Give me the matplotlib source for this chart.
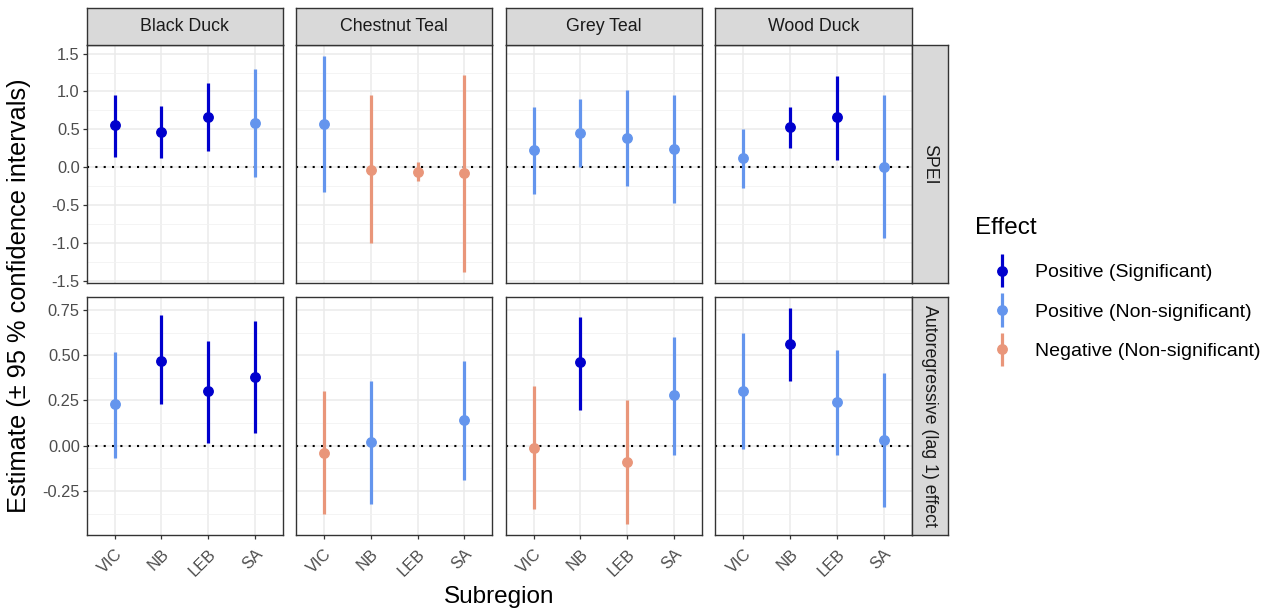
import numpy as np
import matplotlib
matplotlib.use("Agg")
import matplotlib.pyplot as plt
from matplotlib.legend_handler import HandlerErrorbar

plt.rcParams['font.family'] = ['Liberation Sans', 'DejaVu Sans']
plt.rcParams['axes.unicode_minus'] = False

species = ['Black Duck', 'Chestnut Teal', 'Grey Teal', 'Wood Duck']
subregions = ['VIC', 'NB', 'LEB', 'SA']
effects = ['SPEI', 'Autoregressive (lag 1) effect']

# estimates and 95% CI, rows = species, cols = subregions
spei_est = [[0.56, 0.47, 0.66, 0.59],
            [0.57, -0.03, -0.06, -0.08],
            [0.23, 0.45, 0.39, 0.24],
            [0.12, 0.53, 0.66, 0.01]]
spei_lo = [[0.14, 0.12, 0.22, -0.12],
           [-0.33, -1.00, -0.18, -1.38],
           [-0.35, 0.01, -0.24, -0.47],
           [-0.27, 0.26, 0.10, -0.93]]
spei_hi = [[0.96, 0.81, 1.11, 1.29],
           [1.47, 0.95, 0.07, 1.22],
           [0.80, 0.90, 1.02, 0.96],
           [0.51, 0.80, 1.21, 0.95]]
spei_cat = [['sig', 'sig', 'sig', 'pos'],
            ['pos', 'neg', 'neg', 'neg'],
            ['pos', 'pos', 'pos', 'pos'],
            ['pos', 'sig', 'sig', 'pos']]

ar_est = [[0.23, 0.47, 0.30, 0.38],
          [-0.04, 0.02, np.nan, 0.14],
          [-0.01, 0.46, -0.09, 0.28],
          [0.30, 0.56, 0.24, 0.03]]
ar_lo = [[-0.07, 0.23, 0.015, 0.07],
         [-0.375, -0.32, np.nan, -0.19],
         [-0.35, 0.20, -0.435, -0.05],
         [-0.016, 0.36, -0.05, -0.34]]
ar_hi = [[0.52, 0.72, 0.58, 0.69],
         [0.30, 0.36, np.nan, 0.47],
         [0.33, 0.71, 0.25, 0.60],
         [0.62, 0.76, 0.53, 0.40]]
ar_cat = [['pos', 'sig', 'sig', 'sig'],
          ['neg', 'pos', 'neg', 'pos'],
          ['neg', 'sig', 'neg', 'pos'],
          ['pos', 'sig', 'pos', 'pos']]

cat_order = ['sig', 'pos', 'neg']
cat_labels = {'sig': 'Positive (Significant)',
              'pos': 'Positive (Non-significant)',
              'neg': 'Negative (Non-significant)'}
cat_colors = {'sig': '#0000CD', 'pos': '#6495ED', 'neg': '#E9967A'}

spei_ticks = [-1.5, -1.0, -0.5, 0.0, 0.5, 1.0, 1.5]
ar_ticks = [-0.25, 0.0, 0.25, 0.5, 0.75]

W, H = 1273, 616
fig = plt.figure(figsize=(W / 100, H / 100), dpi=100)


def px_axes(x0, y0, x1, y1):
    return fig.add_axes([x0 / W, 1 - y1 / H, (x1 - x0) / W, (y1 - y0) / H])


col_x = [86.7, 296.0, 505.7, 715.3]
pw = 196.3
row_y = [45.0, 297.3]
ph = 238.0
dark = '#333333'

rows = [(spei_est, spei_lo, spei_hi, spei_cat, spei_ticks, '%.1f'),
        (ar_est, ar_lo, ar_hi, ar_cat, ar_ticks, '%.2f')]

handles = {}
for r, (est, lo, hi, cat, ticks, fmt) in enumerate(rows):
    allv = np.array(lo + hi, dtype=float)
    vmin, vmax = np.nanmin(allv), np.nanmax(allv)
    pad = 0.05 * (vmax - vmin)
    step = ticks[1] - ticks[0]
    for c, sp in enumerate(species):
        ax = px_axes(col_x[c], row_y[r], col_x[c] + pw, row_y[r] + ph)
        ax.set_yticks(ticks)
        ax.set_yticks(np.arange(ticks[0] - step / 2, ticks[-1] + step, step), minor=True)
        ax.set_xticks(range(1, 5))
        ax.grid(True, which='major', color='#EBEBEB', linewidth=1.1, zorder=0)
        ax.grid(True, which='minor', axis='y', color='#F2F2F2', linewidth=0.6, zorder=0)
        ax.set_axisbelow(True)
        ax.tick_params(which='minor', length=0)
        ax.tick_params(which='major', length=3, width=0.9, color=dark,
                       labelsize=11.8, labelcolor='#4D4D4D', pad=2)
        ax.tick_params(axis='x', pad=5)
        for s in ax.spines.values():
            s.set_color(dark)
            s.set_linewidth(1.0)
        ax.axhline(0, color='black', linestyle=(0, (1, 3)), linewidth=1.5, zorder=1)
        for k in cat_order:
            idx = [j for j in range(4) if cat[c][j] == k]
            if not idx:
                continue
            xs = np.array(idx) + 1
            e = np.array([est[c][j] for j in idx])
            l = np.array([lo[c][j] for j in idx])
            h = np.array([hi[c][j] for j in idx])
            cont = ax.errorbar(xs, e, yerr=[e - l, h - e], fmt='o', color=cat_colors[k],
                               ms=6.8, elinewidth=2.3, capsize=0, zorder=3,
                               label=cat_labels[k])
            handles.setdefault(k, cont)
        ax.set_xlim(0.4, 4.6)
        ax.set_ylim(vmin - pad, vmax + pad)
        if c == 0:
            ax.set_yticklabels([fmt % t for t in ticks])
        else:
            ax.tick_params(axis='y', which='both', left=False, labelleft=False)
        if r == 1:
            ax.set_xticklabels(subregions, rotation=45, ha='right',
                               rotation_mode='anchor')
        else:
            ax.tick_params(axis='x', bottom=False, labelbottom=False)
        # top strips
        if r == 0:
            sa = px_axes(col_x[c], 8.3, col_x[c] + pw, row_y[0])
            sa.set_facecolor('#D9D9D9')
            sa.set_xticks([])
            sa.set_yticks([])
            for s in sa.spines.values():
                s.set_color(dark)
                s.set_linewidth(1.0)
            sa.text(0.5, 0.5, sp, ha='center', va='center', fontsize=12.8,
                    color='#1A1A1A', transform=sa.transAxes)
    # right strip
    sa = px_axes(col_x[3] + pw, row_y[r], 947.7, row_y[r] + ph)
    sa.set_facecolor('#D9D9D9')
    sa.set_xticks([])
    sa.set_yticks([])
    for s in sa.spines.values():
        s.set_color(dark)
        s.set_linewidth(1.0)
    sa.text(0.5, 0.5, effects[r], ha='center', va='center', fontsize=12.8,
            rotation=270, color='#1A1A1A', transform=sa.transAxes)

fig.text(498.7 / W, 1 - 597 / H, 'Subregion', ha='center', va='center', fontsize=17.5)
fig.text(19 / W, 1 - 296 / H, 'Estimate (\u00b1 95 % confidence intervals)',
         ha='center', va='center', rotation=90, fontsize=18.3)

# legend
fig.text(975 / W, 1 - 228 / H, 'Effect', ha='left', va='center', fontsize=17.5)
leg = fig.legend([handles[k] for k in cat_order], [cat_labels[k] for k in cat_order],
                 loc='upper left', bbox_to_anchor=(967 / W, 1 - 256 / H),
                 frameon=False, fontsize=14, handlelength=2.8, handletextpad=0.3,
                 labelspacing=1.12, borderaxespad=0,
                 handler_map={type(handles['sig']): HandlerErrorbar(yerr_size=0.85)})

fig.savefig('out.png', dpi=100)
